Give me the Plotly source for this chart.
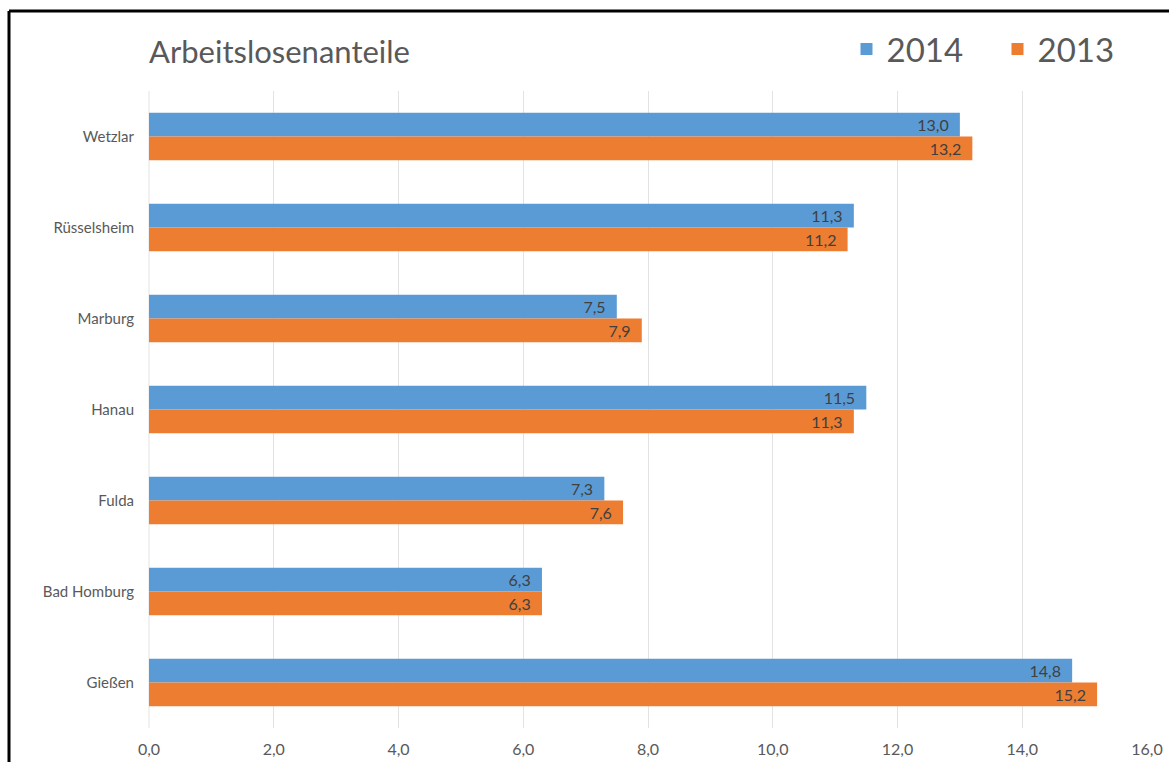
import plotly.graph_objects as go

cities = ["Wetzlar", "Rüsselsheim", "Marburg", "Hanau", "Fulda", "Bad Homburg", "Gießen"]
values_2014 = [13.0, 11.3, 7.5, 11.5, 7.3, 6.3, 14.8]
values_2013 = [13.2, 11.2, 7.9, 11.3, 7.6, 6.3, 15.2]
x_ticks = [0, 2, 4, 6, 8, 10, 12, 14, 16]

BLUE = "#5B9BD5"
ORANGE = "#ED7D31"
FONT = "Lato, 'Noto Sans', sans-serif"

fig = go.Figure()
for name, vals, col in [("2014", values_2014, BLUE), ("2013", values_2013, ORANGE)]:
    fig.add_trace(go.Bar(
        name=name, y=cities, x=vals, orientation="h",
        marker=dict(color=col, line=dict(width=0)),
        texttemplate="%{x:.1f}  ", textposition="inside", insidetextanchor="end",
        textfont=dict(color="#404040", size=16, family=FONT),
        constraintext="none",
    ))

W, H = 1169, 762
L, R, T, B = 149, 22, 91, 34
pw, ph = W - L - R, H - T - B

fig.update_layout(
    width=W, height=H,
    margin=dict(l=L, r=R, t=T, b=B, autoexpand=False),
    paper_bgcolor="white", plot_bgcolor="white",
    separators=",.",
    barmode="group", bargap=0.48, bargroupgap=0,
    font=dict(family=FONT, color="#595959"),
    title=dict(text="Arbeitslosenanteile", x=149 / W, xanchor="left",
               y=1 - 52 / H, yanchor="middle",
               font=dict(size=31, color="#595959", family=FONT)),
    legend=dict(orientation="h", x=817 / W, xanchor="left",
                y=1 - 49 / H, yanchor="middle", yref="container",
                font=dict(size=33, color="#595959", family=FONT),
                entrywidth=106, entrywidthmode="pixels",
                traceorder="normal", bgcolor="rgba(0,0,0,0)"),
    xaxis=dict(range=[0, 16], tickvals=x_ticks, tickformat=".1f",
               showgrid=True, gridcolor="#E3E3E3", gridwidth=1,
               zeroline=False, showline=False, ticks="", automargin=False,
               tickfont=dict(size=16, color="#595959", family=FONT),
               ticklabelstandoff=10),
    yaxis=dict(autorange="reversed", showgrid=False, ticks="", automargin=False,
               tickfont=dict(size=15, color="#595959", family=FONT),
               ticklabelstandoff=14, showline=False),
    shapes=[
        dict(type="line", xref="paper", yref="paper", x0=0, x1=0, y0=0, y1=1,
             line=dict(color="#E3E3E3", width=1), layer="below"),
        dict(type="line", xref="paper", yref="paper",
             x0=-(L - 9) / pw, x1=1.05, y0=1 + (T - 11) / ph, y1=1 + (T - 11) / ph,
             line=dict(color="black", width=3)),
        dict(type="line", xref="paper", yref="paper",
             x0=-(L - 9) / pw, x1=-(L - 9) / pw, y0=-0.1, y1=1 + (T - 11) / ph,
             line=dict(color="black", width=3)),
    ],
)

fig.write_html("out.html")
